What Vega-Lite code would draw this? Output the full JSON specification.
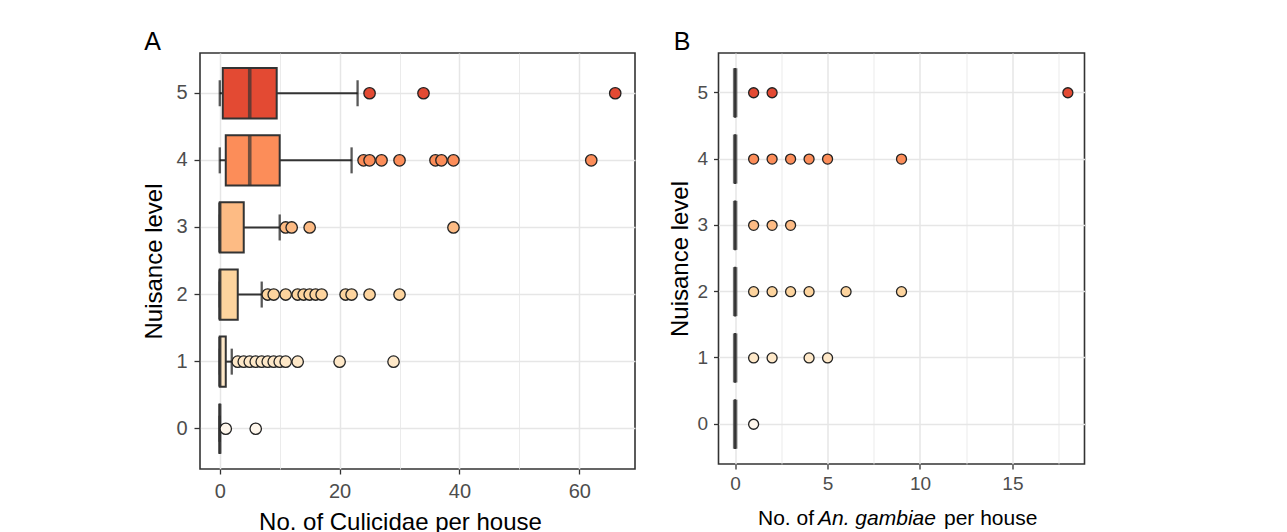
{
  "$schema": "https://vega.github.io/schema/vega-lite/v6.json",
  "background": "white",
  "padding": {"left": 141, "top": 29, "right": 0, "bottom": 0},
  "spacing": 31.5,
  "datasets": {
    "boxes": [
      {"panel": "A", "level": 5, "lo": 0, "q1": 0.5, "med": 5, "q3": 9.5, "hi": 23},
      {"panel": "A", "level": 4, "lo": 0, "q1": 1, "med": 5, "q3": 10, "hi": 22},
      {"panel": "A", "level": 3, "lo": 0, "q1": 0, "med": 0, "q3": 4, "hi": 10},
      {"panel": "A", "level": 2, "lo": 0, "q1": 0, "med": 0, "q3": 3, "hi": 7},
      {"panel": "A", "level": 1, "lo": 0, "q1": 0, "med": 0, "q3": 1, "hi": 2},
      {"panel": "A", "level": 0, "lo": 0, "q1": 0, "med": 0, "q3": 0, "hi": 0},
      {"panel": "B", "level": 5, "lo": 0, "q1": 0, "med": 0, "q3": 0, "hi": 0},
      {"panel": "B", "level": 4, "lo": 0, "q1": 0, "med": 0, "q3": 0, "hi": 0},
      {"panel": "B", "level": 3, "lo": 0, "q1": 0, "med": 0, "q3": 0, "hi": 0},
      {"panel": "B", "level": 2, "lo": 0, "q1": 0, "med": 0, "q3": 0, "hi": 0},
      {"panel": "B", "level": 1, "lo": 0, "q1": 0, "med": 0, "q3": 0, "hi": 0},
      {"panel": "B", "level": 0, "lo": 0, "q1": 0, "med": 0, "q3": 0, "hi": 0}
    ],
    "outliers": [
      {"panel": "A", "level": 5, "n": 25}, {"panel": "A", "level": 5, "n": 34}, {"panel": "A", "level": 5, "n": 66},
      {"panel": "A", "level": 4, "n": 24}, {"panel": "A", "level": 4, "n": 25}, {"panel": "A", "level": 4, "n": 27}, {"panel": "A", "level": 4, "n": 30},
      {"panel": "A", "level": 4, "n": 36}, {"panel": "A", "level": 4, "n": 37}, {"panel": "A", "level": 4, "n": 39}, {"panel": "A", "level": 4, "n": 62},
      {"panel": "A", "level": 3, "n": 11}, {"panel": "A", "level": 3, "n": 12}, {"panel": "A", "level": 3, "n": 15}, {"panel": "A", "level": 3, "n": 39},
      {"panel": "A", "level": 2, "n": 8}, {"panel": "A", "level": 2, "n": 9}, {"panel": "A", "level": 2, "n": 11}, {"panel": "A", "level": 2, "n": 13},
      {"panel": "A", "level": 2, "n": 14}, {"panel": "A", "level": 2, "n": 15}, {"panel": "A", "level": 2, "n": 16}, {"panel": "A", "level": 2, "n": 17},
      {"panel": "A", "level": 2, "n": 21}, {"panel": "A", "level": 2, "n": 22}, {"panel": "A", "level": 2, "n": 25}, {"panel": "A", "level": 2, "n": 30},
      {"panel": "A", "level": 1, "n": 3}, {"panel": "A", "level": 1, "n": 4}, {"panel": "A", "level": 1, "n": 5}, {"panel": "A", "level": 1, "n": 6},
      {"panel": "A", "level": 1, "n": 7}, {"panel": "A", "level": 1, "n": 8}, {"panel": "A", "level": 1, "n": 9}, {"panel": "A", "level": 1, "n": 10},
      {"panel": "A", "level": 1, "n": 11}, {"panel": "A", "level": 1, "n": 13}, {"panel": "A", "level": 1, "n": 20}, {"panel": "A", "level": 1, "n": 29},
      {"panel": "A", "level": 0, "n": 1}, {"panel": "A", "level": 0, "n": 6},
      {"panel": "B", "level": 5, "n": 1}, {"panel": "B", "level": 5, "n": 2}, {"panel": "B", "level": 5, "n": 18},
      {"panel": "B", "level": 4, "n": 1}, {"panel": "B", "level": 4, "n": 2}, {"panel": "B", "level": 4, "n": 3}, {"panel": "B", "level": 4, "n": 4},
      {"panel": "B", "level": 4, "n": 5}, {"panel": "B", "level": 4, "n": 9},
      {"panel": "B", "level": 3, "n": 1}, {"panel": "B", "level": 3, "n": 2}, {"panel": "B", "level": 3, "n": 3},
      {"panel": "B", "level": 2, "n": 1}, {"panel": "B", "level": 2, "n": 2}, {"panel": "B", "level": 2, "n": 3}, {"panel": "B", "level": 2, "n": 4},
      {"panel": "B", "level": 2, "n": 6}, {"panel": "B", "level": 2, "n": 9},
      {"panel": "B", "level": 1, "n": 1}, {"panel": "B", "level": 1, "n": 2}, {"panel": "B", "level": 1, "n": 4}, {"panel": "B", "level": 1, "n": 5},
      {"panel": "B", "level": 0, "n": 1}
    ]
  },
  "config": {
    "font": "Liberation Sans",
    "view": {"stroke": "#333333", "strokeWidth": 1.6},
    "axis": {
      "domain": false,
      "gridColor": "#E6E6E6",
      "gridWidth": 1.5,
      "tickColor": "#333333",
      "tickWidth": 1.3,
      "labelColor": "#4D4D4D",
      "titleColor": "#000000",
      "titleFontWeight": "normal",
      "labelFont": "Liberation Sans",
      "titleFont": "Liberation Sans",
      "labelFlush": false,
      "labelOverlap": false
    },
    "title": {"fontSize": 25, "fontWeight": "normal", "anchor": "start", "frame": "bounds", "color": "#000000", "font": "Liberation Sans", "baseline": "alphabetic", "offset": -2}
  },
  "hconcat": [
    {
      "title": {"text": "A", "dx": 2},
      "width": 435,
      "height": 416,
      "encoding": {
        "y": {
          "field": "level", "type": "ordinal", "sort": "descending",
          "scale": {"paddingInner": 0.25, "paddingOuter": 0.225},
          "axis": {
            "title": "Nuisance level", "titleFontSize": 24, "titleX": -38.7, "titleY": 208,
            "titleAlign": "center", "titleBaseline": "alphabetic", "titleAngle": 270,
            "labelFontSize": 20, "labelPadding": 7, "tickSize": 6, "grid": true,
            "labelAngle": 0, "bandPosition": 0.5
          }
        },
        "fill": {
          "field": "level", "type": "ordinal",
          "scale": {"domain": [0, 1, 2, 3, 4, 5], "range": ["#FFF7EC", "#FEE8C8", "#FDD49E", "#FDBB84", "#FC8D59", "#E34A33"]},
          "legend": null
        }
      },
      "layer": [
        {
          "data": {"name": "boxes"},
          "transform": [{"filter": "datum.panel == 'A'"}],
          "mark": {"type": "rule", "color": "#333333", "strokeWidth": 2},
          "encoding": {
            "fill": {"value": null},
            "x": {
              "field": "lo", "type": "quantitative",
              "scale": {"domain": [-3.3, 69.3], "nice": false, "zero": false},
              "axis": {
                "orient": "bottom", "values": [0, 20, 40, 60], "grid": true, "labelFontSize": 20, "labelPadding": 7, "tickSize": 5,
                "title": "No. of Culicidae per house", "titleFontSize": 24, "titleX": 200, "titleY": 60,
                "titleAlign": "center", "titleBaseline": "alphabetic"
              }
            },
            "x2": {"field": "hi"}
          }
        },
        {
          "data": {"name": "boxes"},
          "transform": [{"filter": "datum.panel == 'A'"}],
          "mark": {"type": "tick", "orient": "vertical", "color": "#111111", "thickness": 2.3, "size": 26},
          "encoding": {"fill": {"value": "#111111"}, "x": {"field": "lo", "type": "quantitative", "axis": null}}
        },
        {
          "data": {"name": "boxes"},
          "transform": [{"filter": "datum.panel == 'A'"}],
          "mark": {"type": "tick", "orient": "vertical", "color": "#111111", "thickness": 2.3, "size": 26},
          "encoding": {"fill": {"value": "#111111"}, "x": {"field": "hi", "type": "quantitative", "axis": null}}
        },
        {
          "data": {"name": "boxes"},
          "transform": [{"filter": "datum.panel == 'A'"}],
          "mark": {"type": "bar", "stroke": "#333333", "strokeWidth": 2},
          "encoding": {
            "x": {
              "field": "q1", "type": "quantitative",
              "axis": {"orient": "bottom", "values": [10, 30, 50], "grid": true, "gridWidth": 0.8, "labels": false, "ticks": false, "domain": false, "title": null}
            },
            "x2": {"field": "q3"}
          }
        },
        {
          "data": {"name": "boxes"},
          "transform": [{"filter": "datum.panel == 'A'"}],
          "mark": {"type": "tick", "orient": "vertical", "color": "#333333", "thickness": 3.6, "size": 50},
          "encoding": {"fill": {"value": "#333333"}, "x": {"field": "med", "type": "quantitative", "axis": null}}
        },
        {
          "data": {"name": "outliers"},
          "transform": [{"filter": "datum.panel == 'A'"}],
          "mark": {"type": "circle", "stroke": "#222222", "strokeWidth": 1.3, "size": 130, "opacity": 1},
          "encoding": {"x": {"field": "n", "type": "quantitative", "axis": null}}
        }
      ],
      "resolve": {"axis": {"x": "independent"}}
    },
    {
      "title": {"text": "B", "dx": 5},
      "width": 366,
      "height": 411,
      "encoding": {
        "y": {
          "field": "level", "type": "ordinal", "sort": "descending",
          "scale": {"paddingInner": 0.25, "paddingOuter": 0.225},
          "axis": {
            "title": "Nuisance level", "titleFontSize": 24, "titleX": -30.7, "titleY": 205.5,
            "titleAlign": "center", "titleBaseline": "alphabetic", "titleAngle": 270,
            "labelFontSize": 19, "labelPadding": 6, "tickSize": 5, "grid": true,
            "labelAngle": 0, "bandPosition": 0.5
          }
        },
        "fill": {
          "field": "level", "type": "ordinal",
          "scale": {"domain": [0, 1, 2, 3, 4, 5], "range": ["#FFF7EC", "#FEE8C8", "#FDD49E", "#FDBB84", "#FC8D59", "#E34A33"]},
          "legend": null
        }
      },
      "layer": [
        {
          "data": {"name": "boxes"},
          "transform": [{"filter": "datum.panel == 'B'"}],
          "mark": {"type": "rule", "color": "#333333", "strokeWidth": 2},
          "encoding": {
            "fill": {"value": null},
            "x": {
              "field": "lo", "type": "quantitative",
              "scale": {"domain": [-0.9, 18.9], "nice": false, "zero": false},
              "axis": {
                "orient": "bottom", "values": [0, 5, 10, 15], "grid": true, "labelFontSize": 19, "labelPadding": 5.5, "tickSize": 5,
                "title": "No. of", "titleFontSize": 21, "titleX": 39, "titleY": 60,
                "titleAlign": "left", "titleBaseline": "alphabetic"
              }
            },
            "x2": {"field": "hi"}
          }
        },
        {
          "data": {"name": "boxes"},
          "transform": [{"filter": "datum.panel == 'B'"}],
          "mark": {"type": "bar", "stroke": "#333333", "strokeWidth": 2},
          "encoding": {
            "x": {
              "field": "q1", "type": "quantitative",
              "axis": {"orient": "bottom", "values": [2.5, 7.5, 12.5, 17.5], "grid": true, "gridWidth": 0.8, "labels": false, "ticks": false, "domain": false,
                "title": "An. gambiae", "titleFontStyle": "italic", "titleFontSize": 21, "titleX": 99, "titleY": 60,
                "titleAlign": "left", "titleBaseline": "alphabetic"}
            },
            "x2": {"field": "q3"}
          }
        },
        {
          "data": {"name": "boxes"},
          "transform": [{"filter": "datum.panel == 'B'"}],
          "mark": {"type": "tick", "orient": "vertical", "color": "#333333", "thickness": 4.5, "size": 49},
          "encoding": {"fill": {"value": "#333333"}, "x": {"field": "med", "type": "quantitative", "axis": null}}
        },
        {
          "data": {"name": "outliers"},
          "transform": [{"filter": "datum.panel == 'B'"}],
          "mark": {"type": "circle", "stroke": "#222222", "strokeWidth": 1.3, "size": 100, "opacity": 1},
          "encoding": {
            "x": {
              "field": "n", "type": "quantitative",
              "axis": {"orient": "bottom", "labels": false, "ticks": false, "domain": false, "grid": false,
                "title": "per house", "titleFontSize": 21, "titleX": 225, "titleY": 60,
                "titleAlign": "left", "titleBaseline": "alphabetic"}
            }
          }
        }
      ],
      "resolve": {"axis": {"x": "independent"}}
    }
  ]
}
